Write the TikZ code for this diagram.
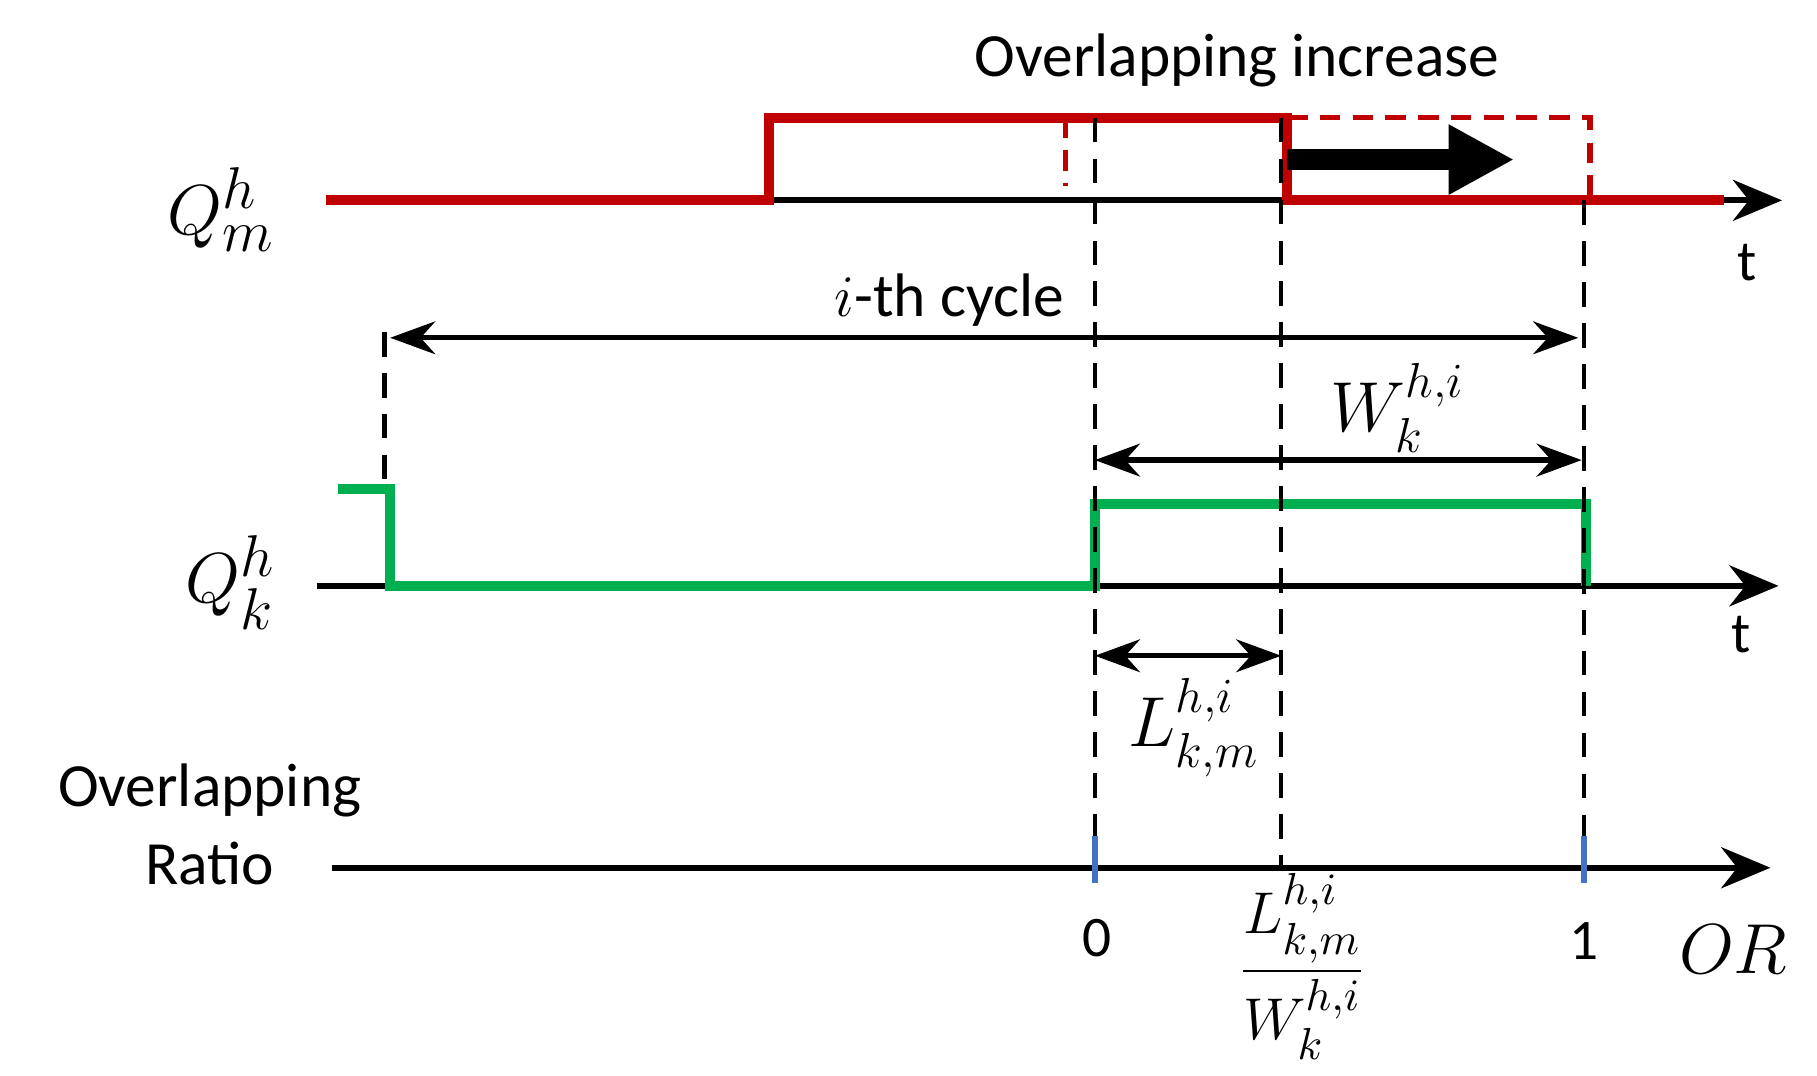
\documentclass[tikz,border=0pt]{standalone}
\usepackage{amsmath}
\usepackage{fontspec}
\setmainfont{Carlito}
\usetikzlibrary{arrows.meta,positioning}
\definecolor{sigred}{RGB}{192,0,0}
\definecolor{siggreen}{RGB}{0,176,80}
\definecolor{tickblue}{RGB}{68,114,196}
\begin{document}
\begin{tikzpicture}[x=0.01cm,y=-0.01cm,
  axis/.style={line width=1.5pt,-{Stealth[length=12pt,width=10pt]}},
  dim/.style={line width=1.3pt,{Stealth[length=11pt,width=8pt]}-{Stealth[length=11pt,width=8pt]}},
  guide/.style={line width=1.1pt,dashed,dash pattern=on 6pt off 4pt},
  sig/.style={line width=2.4pt,line join=miter},
  lbl/.style={inner sep=0pt,font=\fontsize{14}{16}\selectfont},
  mlbl/.style={inner sep=0pt,font=\fontsize{18}{20}\selectfont}
]
\useasboundingbox (0,0) rectangle (1560,923);
% axis ends
\coordinate (a1s) at (280,172);  \coordinate (a1e) at (1530,172);
\coordinate (a2s) at (272,503);  \coordinate (a2e) at (1527,503);
\coordinate (a3s) at (285,745);  \coordinate (a3e) at (1520,745);
\draw[axis] (a1s) -- (a1e);
\draw[axis] (a2s) -- (a2e);
\draw[axis] (a3s) -- (a3e);
% red signal
\draw[sig,sigred] (280,172) -- (660,172) -- (660,101) -- (1105,101) -- (1105,172) -- (1480,172);
\draw[sigred,line width=1.3pt,dash pattern=on 5pt off 3pt] (1105,101) -- (1365,101) -- (1365,172);
\draw[sigred,line width=1.3pt,dash pattern=on 5pt off 3pt] (915,101) -- (915,160);
\draw[line width=5pt,-{Triangle[length=16pt,width=16pt]}] (1105,137) -- (1300,137);
% green signal
\draw[sig,siggreen] (290,420) -- (335,420) -- (335,503) -- (940,503) -- (940,433) -- (1362,433) -- (1362,503);
% guides
\draw[guide] (940,101) -- (940,718);
\draw[guide] (1100,101) -- (1100,745);
\draw[guide] (1360,172) -- (1360,718);
\draw[guide] (330,285) -- (330,420);
\foreach \x in {940,1360} \draw[tickblue,line width=1.5pt] (\x,718) -- (\x,758);
% dimensions
\draw[dim] (335,290) -- (1355,290);
\draw[dim] (940,395) -- (1358,395);
\draw[dim] (940,563) -- (1100,563);
% labels
\node[lbl,font=\fontsize{15}{17}\selectfont] (inc) at (1062,52) {Overlapping increase};
\node[mlbl,font=\fontsize{19}{21}\selectfont] (qm) at (190,180) {$Q_m^h$};
\node[mlbl,font=\fontsize{19}{21}\selectfont] (qk) at (198,500) {$Q_k^h$};
\node[lbl] (t1) at (1500,225) {t};
\node[lbl] (t2) at (1495,545) {t};
\node[lbl,font=\fontsize{15}{17}\selectfont] (cyc) at (815,258) {$i$-th cycle};
\node[mlbl] (wl) at (1200,350) {$W_k^{h,i}$};
\node[mlbl] (ll) at (1025,625) {$L_{k,m}^{h,i}$};
\node[lbl,font=\fontsize{15}{19}\selectfont,align=center] (orl) at (180,708) {Overlapping\\Ratio};
\node[lbl] (z) at (942,805) {0};
\node[lbl] (o) at (1360,808) {1};
\node[mlbl] (or) at (1488,815) {$OR$};
\node[mlbl,font=\fontsize{15}{17}\selectfont] (fr) at (1118,830) {$\dfrac{L_{k,m}^{h,i}}{W_k^{h,i}}$};
\end{tikzpicture}
\end{document}
